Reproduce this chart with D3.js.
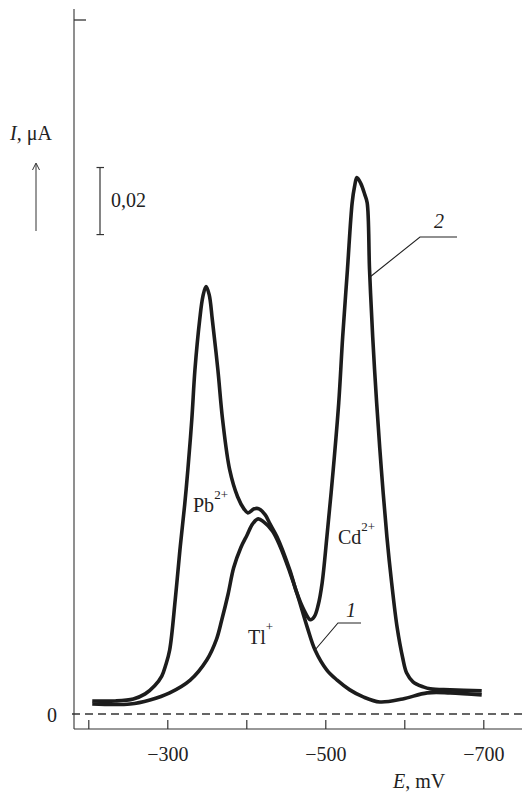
<!DOCTYPE html>
<html>
<head>
<meta charset="utf-8">
<script src="https://cdn.jsdelivr.net/npm/d3@7"></script>
<style>
  body { margin: 0; background: #fff; }
  svg text { font-family: "Liberation Serif", "Times New Roman", Times, "DejaVu Serif", serif !important; fill: #222; }
</style>
</head>
<body>
<svg id="chart" width="522" height="793" font-family="Liberation Serif"></svg>
<script>
// potential E, mV  /  current I, uA
var eCurve2 = [-205, -234, -257, -272, -284, -293, -298, -303, -310, -316, -322, -326, -331, -335, -341,
  -345, -349, -353, -357, -364, -370, -379, -389, -397, -402, -410, -416, -424, -430, -439, -455, -464,
  -473, -481, -486, -491, -496, -502, -510, -517, -522, -528, -534, -537, -540, -545, -550, -553, -556,
  -560, -565, -571, -578, -584, -591, -598, -603, -611, -624, -633, -658, -698];
var iCurve2 = [0.0039, 0.0039, 0.0045, 0.0060, 0.0084, 0.0113, 0.0146, 0.0191, 0.0340, 0.0490, 0.0624,
  0.0728, 0.0878, 0.1027, 0.1176, 0.1245, 0.1275, 0.1251, 0.1176, 0.1027, 0.0878, 0.0728, 0.0648, 0.0612,
  0.0600, 0.0612, 0.0612, 0.0594, 0.0567, 0.0528, 0.0430, 0.0361, 0.0310, 0.0281, 0.0290, 0.0325, 0.0391,
  0.0528, 0.0728, 0.0928, 0.1125, 0.1325, 0.1525, 0.1573, 0.1600, 0.1582, 0.1549, 0.1525, 0.1325, 0.1125,
  0.0928, 0.0728, 0.0528, 0.0391, 0.0257, 0.0167, 0.0122, 0.0096, 0.0081, 0.0075, 0.0072, 0.0069];

var eCurve1 = [-205, -253, -278, -303, -329, -350, -362, -369, -377, -384, -393, -401, -408, -415, -422,
  -433, -443, -455, -464, -477, -487, -502, -515, -531, -548, -569, -598, -629, -658, -698];
var iCurve1 = [0.0030, 0.0030, 0.0042, 0.0063, 0.0101, 0.0161, 0.0221, 0.0281, 0.0358, 0.0436, 0.0496,
  0.0534, 0.0567, 0.0582, 0.0573, 0.0546, 0.0499, 0.0424, 0.0361, 0.0260, 0.0191, 0.0131, 0.0101, 0.0072,
  0.0051, 0.0036, 0.0045, 0.0063, 0.0063, 0.0057];

var eTicks = [-200, -300, -400, -500, -600, -700];
var eLabels = [-300, -500, -700];
var scaleBar = [0.143, 0.163];   // 0,02 uA
var iTop = 0.207;

var svg = d3.select("#chart"),
    W = +svg.attr("width"),
    axisX = 74,
    axisY = 729;

var x = d3.scaleLinear().domain([-200, -700]).range([88.3, 483.3]);
var y = d3.scaleLinear().domain([0, iTop]).range([714, 20]);

var ink = "#1c1c1c";

// axes
svg.append("line").attr("x1", axisX).attr("x2", axisX).attr("y1", 9).attr("y2", axisY)
  .attr("stroke", "#333").attr("stroke-width", 1.1);
svg.append("line").attr("x1", axisX).attr("x2", axisX + 12).attr("y1", y(iTop)).attr("y2", y(iTop))
  .attr("stroke", "#333").attr("stroke-width", 1.3);

var xAxis = d3.axisBottom(x)
  .tickValues(eTicks)
  .tickSize(-9)
  .tickPadding(18)
  .tickFormat(function (d) { return eLabels.indexOf(d) >= 0 ? "\u2212" + Math.abs(d) : ""; });

var gx = svg.append("g").attr("transform", "translate(0," + axisY + ")").call(xAxis)
  .attr("font-family", "Liberation Serif").attr("font-size", 20);
gx.select(".domain").remove();
gx.selectAll(".tick line").attr("stroke", "#333").attr("stroke-width", 1.2);
gx.selectAll(".tick text").attr("fill", "#222");

svg.append("line").attr("x1", axisX).attr("x2", W).attr("y1", axisY).attr("y2", axisY)
  .attr("stroke", "#333").attr("stroke-width", 1.1);

// zero line
svg.append("line").attr("x1", axisX - 2).attr("x2", W).attr("y1", y(0)).attr("y2", y(0))
  .attr("stroke", "#333").attr("stroke-width", 1.3).attr("stroke-dasharray", "8,5");
svg.append("text").attr("x", 47).attr("y", y(0) + 8).attr("font-size", 20).text("0");

// I axis label with arrow
var yl = svg.append("text").attr("x", 10).attr("y", 140).attr("font-size", 20);
yl.append("tspan").attr("font-style", "italic").text("I");
yl.append("tspan").text(", \u03bcA");
svg.append("line").attr("x1", 36).attr("x2", 36).attr("y1", 231).attr("y2", 164)
  .attr("stroke", "#333").attr("stroke-width", 1);
svg.append("path").attr("d", "M32.5,170 L36,163 L39.5,170").attr("fill", "none")
  .attr("stroke", "#333").attr("stroke-width", 1);

// scale bar
var sb = svg.append("g").attr("stroke", "#333").attr("stroke-width", 1.2);
sb.append("line").attr("x1", 100).attr("x2", 100).attr("y1", y(scaleBar[0])).attr("y2", y(scaleBar[1]));
scaleBar.forEach(function (v) {
  sb.append("line").attr("x1", 96.5).attr("x2", 104).attr("y1", y(v)).attr("y2", y(v));
});
svg.append("text").attr("x", 111).attr("y", 207).attr("font-size", 20).text("0,02");

// E axis label
var xl = svg.append("text").attr("x", 393).attr("y", 788).attr("font-size", 20);
xl.append("tspan").attr("font-style", "italic").text("E");
xl.append("tspan").text(", mV");

// curves
var line = d3.line()
  .x(function (d) { return x(d[0]); })
  .y(function (d) { return y(d[1]); })
  .curve(d3.curveCatmullRom.alpha(0.5));

svg.append("path").datum(d3.zip(eCurve1, iCurve1)).attr("d", line)
  .attr("fill", "none").attr("stroke", ink).attr("stroke-width", 3.6)
  .attr("stroke-linejoin", "round").attr("stroke-linecap", "butt");
svg.append("path").datum(d3.zip(eCurve2, iCurve2)).attr("d", line)
  .attr("fill", "none").attr("stroke", ink).attr("stroke-width", 3.6)
  .attr("stroke-linejoin", "round").attr("stroke-linecap", "butt");

// ion labels
function ion(px, py, base, sup) {
  var t = svg.append("text").attr("x", px).attr("y", py).attr("font-size", 20);
  t.append("tspan").text(base);
  t.append("tspan").attr("font-size", 13).attr("dy", -13).text(sup);
}
ion(193, 512, "Pb", "2+");
ion(338, 544, "Cd", "2+");
ion(248, 644, "Tl", "+");

// curve numbers with leaders
var lead = svg.append("g").attr("fill", "none").attr("stroke", "#222").attr("stroke-width", 1.1);
lead.append("path").attr("d", "M315,650 L338,623 L361,623");
lead.append("path").attr("d", "M370,277 L420,237 L457,237");
svg.append("text").attr("x", 346).attr("y", 617).attr("font-size", 20).attr("font-style", "italic").text("1");
svg.append("text").attr("x", 434).attr("y", 228).attr("font-size", 20).attr("font-style", "italic").text("2");
</script>
</body>
</html>
